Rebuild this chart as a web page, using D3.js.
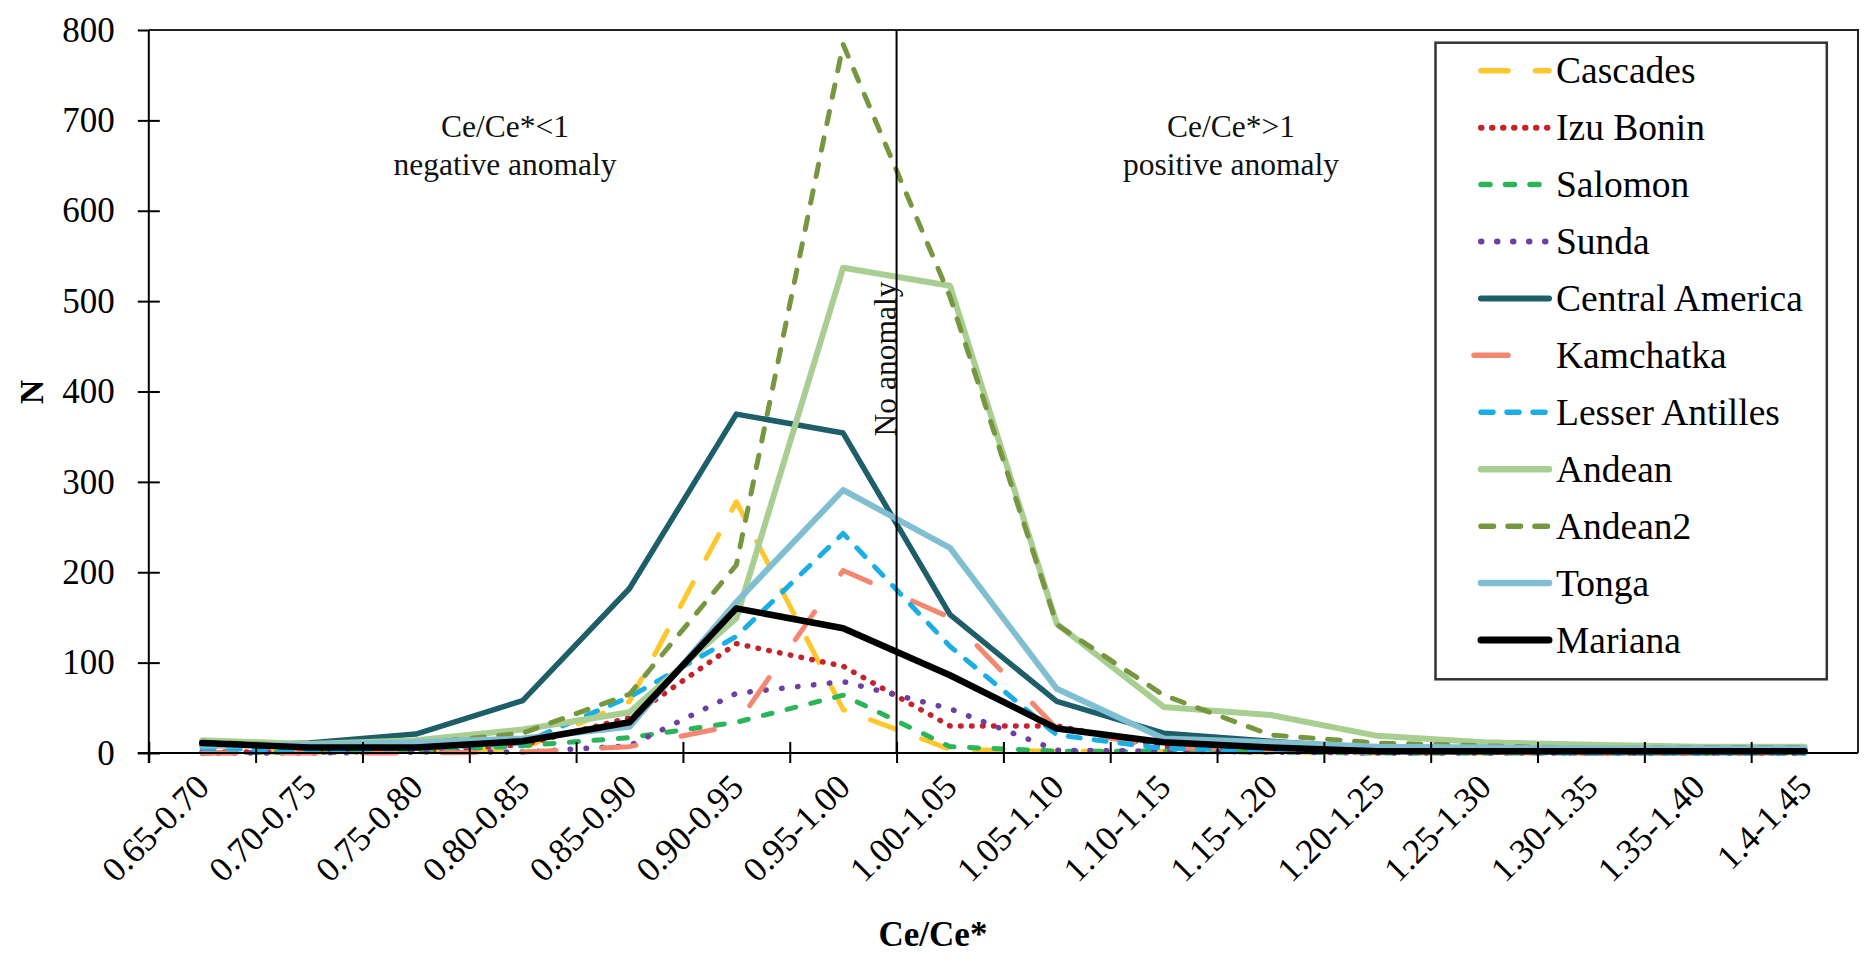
<!DOCTYPE html>
<html><head><meta charset="utf-8">
<script src="https://cdn.jsdelivr.net/npm/d3@7"></script>
<style>body{margin:0;background:#fff}</style>
</head><body>
<svg id="c" width="1865" height="961"></svg>
<script>
// ---- data ----
const categories = ["0.65-0.70","0.70-0.75","0.75-0.80","0.80-0.85","0.85-0.90","0.90-0.95","0.95-1.00","1.00-1.05","1.05-1.10","1.10-1.15","1.15-1.20","1.20-1.25","1.25-1.30","1.30-1.35","1.35-1.40","1.4-1.45"];
const yTickValues = [0,100,200,300,400,500,600,700,800];
const seriesNames = ["Cascades","Izu Bonin","Salomon","Sunda","Central America","Kamchatka","Lesser Antilles","Andean","Andean2","Tonga","Mariana"];
const cascades       = [0, 1, 1, 5, 57, 278, 48, 4, 2, 2, 1, 0, 0, 0, 0, 0];
const izuBonin       = [1, 1, 2, 9, 39, 121, 96, 30, 30, 7, 2, 1, 1, 0, 0, 0];
const salomon        = [0, 1, 2, 8, 17, 34, 64, 7, 2, 2, 1, 0, 0, 0, 0, 0];
const sunda          = [0, 0, 1, 1, 8, 66, 79, 49, 3, 2, 1, 0, 0, 0, 0, 0];
const centralAmerica = [8, 11, 21, 58, 182, 375, 354, 153, 57, 22, 13, 5, 3, 2, 2, 2];
const kamchatka      = [0, 0, 0, 1, 7, 31, 202, 150, 27, 6, 3, 1, 1, 0, 0, 0];
const lesserAntilles = [5, 3, 5, 11, 62, 129, 243, 118, 20, 5, 3, 1, 1, 0, 0, 0];
const andean         = [14, 10, 14, 26, 45, 149, 537, 517, 143, 51, 42, 19, 12, 9, 7, 7];
const andean2        = [12, 8, 10, 22, 65, 208, 784, 505, 142, 64, 20, 11, 8, 5, 6, 6];
const tonga          = [8, 9, 12, 16, 29, 167, 291, 227, 71, 16, 12, 7, 6, 5, 5, 5];
const mariana        = [11, 6, 6, 13, 34, 160, 138, 86, 27, 12, 6, 2, 2, 2, 2, 2];
const seriesValues = [cascades, izuBonin, salomon, sunda, centralAmerica, kamchatka, lesserAntilles, andean, andean2, tonga, mariana];

// ---- styles ----
const styles = {
  "Cascades":        {color:"#FFC72C", w:5,   dash:"27 27.5"},
  "Izu Bonin":       {color:"#C5222C", w:5.5, dash:"0.5 10.5"},
  "Salomon":         {color:"#2BB55B", w:5,   dash:"9 15.5"},
  "Sunda":           {color:"#6E3FA3", w:5.5, dash:"0.5 15.5"},
  "Central America": {color:"#1E5E69", w:5.5, dash:null},
  "Kamchatka":       {color:"#F5866F", w:5,   dash:"34 46"},
  "Lesser Antilles": {color:"#1BAEE6", w:5,   dash:"12 14"},
  "Andean":          {color:"#A8CE92", w:6,   dash:null},
  "Andean2":         {color:"#76973F", w:5,   dash:"12.5 14.5"},
  "Tonga":           {color:"#7FBFD1", w:6,   dash:null},
  "Mariana":         {color:"#000000", w:6.5, dash:null}
};
const FONT = "'Liberation Serif','Times New Roman',serif";

const svg = d3.select("#c");
const L = 148.8, R = 1858, T = 30, B = 753;

const x = d3.scaleBand().domain(categories).range([L, R]).padding(0);
const xb = d3.scaleLinear().domain([0, categories.length]).range([L, R]);
const y = d3.scaleLinear().domain([0, 800]).range([B, T]);
const cx = c => x(c) + x.bandwidth() / 2;

// plot border (top & right)
svg.append("path").attr("d", `M${L},${T}H${R}V${B}`).attr("fill","none").attr("stroke","#222").attr("stroke-width",2);

// series
const line = d3.line().x((d,i) => cx(categories[i])).y(d => y(d));
seriesNames.forEach((name, k) => {
  const s = styles[name];
  svg.append("path").datum(seriesValues[k])
    .attr("d", line).attr("fill","none")
    .attr("stroke", s.color).attr("stroke-width", s.w)
    .attr("stroke-linejoin","round").attr("stroke-linecap","round")
    .attr("stroke-dasharray", s.dash);
});

// No anomaly line
svg.append("line").attr("x1", xb(7)).attr("x2", xb(7)).attr("y1", T).attr("y2", B)
  .attr("stroke","#000").attr("stroke-width",2);

// y axis
const yAxis = svg.append("g").attr("transform", `translate(${L},0)`)
  .call(d3.axisLeft(y).tickValues(yTickValues).tickSize(11).tickPadding(23));
yAxis.select(".domain").attr("stroke","#000").attr("stroke-width",2).attr("d", `M0,${T}V${B+10}`);
yAxis.selectAll(".tick line").attr("x1", 11).attr("x2", -11).attr("stroke","#000").attr("stroke-width",2);
yAxis.selectAll(".tick line").filter(d => d === 800).attr("x1", 0);
yAxis.selectAll("text").style("font-family", FONT).style("font-size","35px").attr("fill","#000");

// x axis ticks
const xAxis = svg.append("g").attr("transform", `translate(0,${B})`)
  .call(d3.axisBottom(xb).tickValues(d3.range(0, categories.length)).tickSize(10).tickFormat(""));
xAxis.select(".domain").attr("stroke","#000").attr("stroke-width",2).attr("d", `M${L-11},0H${R}`);
xAxis.selectAll(".tick line").attr("y1", -11).attr("y2", 10).attr("stroke","#000").attr("stroke-width",2);

// x labels
svg.append("g").selectAll("text").data(categories).join("text")
  .attr("transform", d => `translate(${cx(d) + 9},${789}) rotate(-45)`)
  .attr("text-anchor","end")
  .style("font-family", FONT).style("font-size","35px").attr("fill","#000")
  .text(d => d);

// axis titles
svg.append("text").attr("x", 933).attr("y", 946).attr("text-anchor","middle")
  .style("font-family", FONT).style("font-size","35px").style("font-weight","bold").text("Ce/Ce*");
svg.append("text").attr("transform", `translate(43,392) rotate(-90)`).attr("text-anchor","middle")
  .style("font-family", FONT).style("font-size","34px").style("font-weight","bold").text("N");

// annotations
const ann = [
  {t:"Ce/Ce*<1", x:505, y:137}, {t:"negative anomaly", x:505, y:175},
  {t:"Ce/Ce*>1", x:1231, y:137}, {t:"positive anomaly", x:1231, y:175}
];
svg.append("g").selectAll("text").data(ann).join("text")
  .attr("x", d => d.x).attr("y", d => d.y).attr("text-anchor","middle")
  .style("font-family", FONT).style("font-size","31.5px").attr("fill","#111").text(d => d.t);
svg.append("text").attr("transform", `translate(${xb(7) - 1},359) rotate(-90)`).attr("text-anchor","middle")
  .style("font-family", FONT).style("font-size","31.5px").attr("fill","#111").text("No anomaly");

// legend
const lg = svg.append("g");
lg.append("rect").attr("x",1435.5).attr("y",42.7).attr("width",391.3).attr("height",636.6)
  .attr("fill","#fff").attr("stroke","#333").attr("stroke-width",2.5);
seriesNames.forEach((name, k) => {
  const s = styles[name];
  const ry = 70.7 + k * 56.93;
  lg.append("line").attr("x1", name === "Kamchatka" ? 1474 : 1481).attr("x2", 1549)
    .attr("y1", ry).attr("y2", ry)
    .attr("stroke", s.color).attr("stroke-width", s.w + 0.5)
    .attr("stroke-linecap","round").attr("stroke-dasharray", s.dash);
  lg.append("text").attr("x", 1556).attr("y", ry + 12.5)
    .style("font-family", FONT).style("font-size","37.5px").attr("fill","#000").text(name);
});
</script>
</body></html>
